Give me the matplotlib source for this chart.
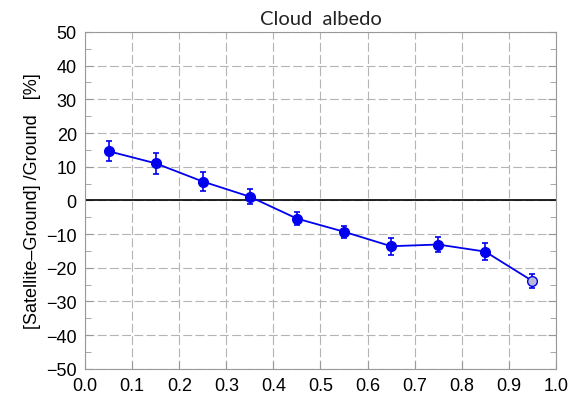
import matplotlib
matplotlib.use('Agg')
import matplotlib.pyplot as plt
import numpy as np
from matplotlib.ticker import MultipleLocator

plt.rcParams['font.family'] = ['Liberation Sans', 'DejaVu Sans']

# Data
albedo = [0.05, 0.15, 0.25, 0.35, 0.45, 0.55, 0.65, 0.75, 0.85, 0.95]
rel_diff = [14.6, 11.0, 5.6, 1.1, -5.4, -9.3, -13.6, -13.1, -15.2, -23.9]
rel_err = [2.9, 3.2, 2.8, 2.3, 1.9, 1.8, 2.5, 2.2, 2.5, 2.2]

line_color = '#0000ee'
grid_color = '#b4b4b4'

fig = plt.figure(figsize=(5.79, 4.02), dpi=100)
ax = fig.add_axes([0.147, 0.080, 0.813, 0.838])

ax.axhline(0, color='black', lw=1.2, zorder=2)

ax.plot(albedo, rel_diff, color=line_color, lw=1.3, zorder=3)
# all but last point: filled blue
ax.errorbar(albedo[:-1], rel_diff[:-1], yerr=rel_err[:-1], fmt='o', color=line_color,
            ms=7, capsize=2, elinewidth=1.2, capthick=1.2, zorder=4)
# last point: pale fill
ax.errorbar(albedo[-1:], rel_diff[-1:], yerr=rel_err[-1:], fmt='o', color=line_color,
            mfc='#b8b8d8', mec=line_color, ms=7, capsize=2, elinewidth=1.2, capthick=1.2, zorder=4)

ax.set_xlim(0, 1.0)
ax.set_ylim(-50, 50)
ax.xaxis.set_major_locator(MultipleLocator(0.1))
ax.yaxis.set_major_locator(MultipleLocator(10))
ax.yaxis.set_minor_locator(MultipleLocator(5))
ax.xaxis.set_major_formatter(plt.FuncFormatter(lambda v, p: f"{v:.1f}"))
ax.yaxis.set_major_formatter(plt.FuncFormatter(lambda v, p: f"{int(round(v))}".replace('-', '\u2212')))

ax.grid(True, which='major', color=grid_color, ls=(0, (8, 3)), lw=0.8)
ax.tick_params(which='both', direction='in', right=True, top=False, labelsize=13,
               color='#999999', length=6, pad=6)
ax.tick_params(which='minor', length=4)
for s in ax.spines.values():
    s.set_color('#999999')

ax.set_title('Cloud  albedo', fontsize=14.5, pad=6, color='#222222',
             family=['Lato', 'DejaVu Sans'])
ax.set_ylabel('[Satellite\u2013Ground] /Ground   [%]', fontsize=13, labelpad=4)

plt.savefig('out.png', dpi=100)
